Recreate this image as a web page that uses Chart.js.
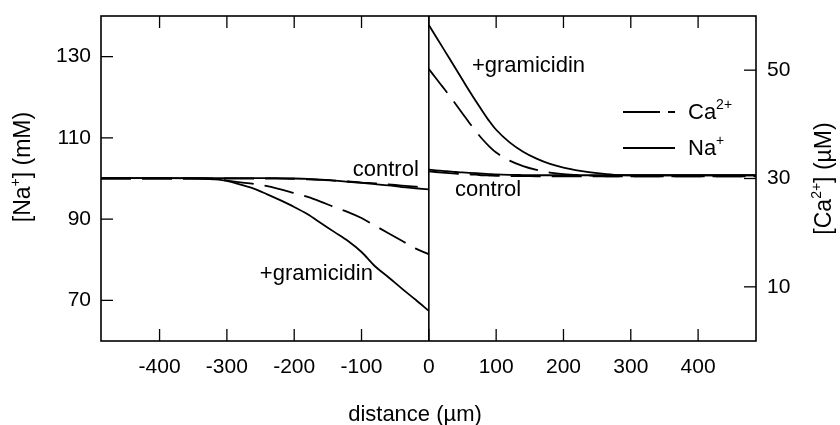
<!DOCTYPE html>
<html lang="en">
<head>
<meta charset="utf-8">
<title>[Na+] and [Ca2+] profiles</title>
<script src="https://cdn.jsdelivr.net/npm/chart.js@4"></script>
<style>
  body { margin: 0; background: #fff; }
</style>
</head>
<body>
<canvas id="profileChart" width="840" height="425"></canvas>
<script>
// distance from the cell (µm); the two halves are separate traces
const xLeft = [-487, -400, -340, -320, -300, -280, -260, -240, -220, -200, -180, -160, -140, -120, -100, -80, -60, -40, -20, 0];
const naGramLeft = [100.1, 100.1, 100.0, 99.8, 99.4, 98.5, 97.5, 96.1, 94.6, 93.0, 91.2, 89.0, 86.8, 84.6, 81.9, 78.4, 75.7, 72.9, 70.2, 67.4];
const caGramLeft = [30.0, 30.0, 30.0, 29.9, 29.6, 29.3, 29.0, 28.6, 28.0, 27.3, 26.6, 25.7, 24.7, 23.8, 22.7, 21.3, 19.9, 18.5, 17.1, 16.0];
const naCtrlLeft = [100.1, 100.1, 100.1, 100.1, 100.1, 100.1, 100.1, 100.1, 100.05, 100.0, 99.9, 99.7, 99.5, 99.2, 98.9, 98.6, 98.3, 97.9, 97.6, 97.3];
const caCtrlLeft = [30.0, 30.0, 30.0, 30.0, 30.0, 30.0, 30.0, 30.0, 30.0, 29.95, 29.85, 29.75, 29.6, 29.45, 29.25, 29.1, 28.9, 28.7, 28.5, 28.3];

const xRight = [0, 10, 20, 30, 40, 50, 60, 70, 80, 90, 100, 120, 140, 160, 180, 200, 225, 250, 275, 300, 350, 400, 486];
const naGramRight = [137.8, 135.1, 132.4, 129.7, 127.0, 124.3, 121.6, 119.0, 116.5, 114.1, 112.0, 108.9, 106.6, 104.9, 103.6, 102.7, 101.9, 101.3, 100.9, 100.8, 100.8, 100.8, 100.8];
const caGramRight = [50.2, 48.6, 47.0, 45.4, 43.7, 42.0, 40.3, 38.7, 37.2, 35.9, 34.8, 33.3, 32.3, 31.6, 31.1, 30.8, 30.6, 30.5, 30.4, 30.4, 30.4, 30.4, 30.4];
const naCtrlRight = [102.2, 102.0, 101.9, 101.75, 101.6, 101.5, 101.4, 101.3, 101.2, 101.1, 101.0, 100.9, 100.85, 100.8, 100.8, 100.8, 100.8, 100.8, 100.8, 100.8, 100.8, 100.8, 100.8];
const caCtrlRight = [31.3, 31.2, 31.1, 31.0, 30.9, 30.8, 30.75, 30.7, 30.6, 30.55, 30.5, 30.45, 30.45, 30.4, 30.4, 30.4, 30.4, 30.4, 30.4, 30.4, 30.4, 30.4, 30.4];

const xTicks = [-400, -300, -200, -100, 0, 100, 200, 300, 400];
const naTicks = [70, 90, 110, 130];
const caTicks = [10, 30, 50];

const FONT = "'Liberation Sans', Arial, Helvetica, sans-serif";
const CA_DASH = [30, 11];

function pts(xs, ys) {
    return xs.map((x, i) => ({ x: x, y: ys[i] }));
}

function trace(xs, ys, axis, dashed) {
    return {
        data: pts(xs, ys),
        yAxisID: axis,
        borderColor: '#000',
        borderWidth: 1.8,
        borderDash: dashed ? CA_DASH : [],
        pointRadius: 0,
        cubicInterpolationMode: 'monotone',
        fill: false
    };
}

// text made of plain and superscript pieces, e.g. [['[Na'], ['+', true], ['] (mM)']]
function drawRich(ctx, parts, x, y, size, align) {
    const supSize = Math.round(size * 0.62);
    let w = 0;
    parts.forEach(p => {
        ctx.font = (p[1] ? supSize : size) + 'px ' + FONT;
        w += ctx.measureText(p[0]).width;
    });
    let cx = align === 'center' ? x - w / 2 : x;
    ctx.textAlign = 'left';
    ctx.textBaseline = 'alphabetic';
    parts.forEach(p => {
        ctx.font = (p[1] ? supSize : size) + 'px ' + FONT;
        ctx.fillText(p[0], cx, p[1] ? y - size * 0.45 : y);
        cx += ctx.measureText(p[0]).width;
    });
}

function seg(ctx, x1, y1, x2, y2) {
    ctx.beginPath();
    ctx.moveTo(x1, y1);
    ctx.lineTo(x2, y2);
    ctx.stroke();
}

const overlay = {
    id: 'overlay',
    afterDatasetsDraw(chart) {
        const ctx = chart.ctx;
        const a = chart.chartArea;
        const sx = chart.scales.x, yl = chart.scales.y, yr = chart.scales.y1;
        ctx.save();
        ctx.strokeStyle = '#000';
        ctx.lineWidth = 1.6;
        ctx.strokeRect(a.left, a.top, a.right - a.left, a.bottom - a.top);
        // divider at the cell surface
        const x0 = sx.getPixelForValue(0);
        seg(ctx, x0, a.top, x0, a.bottom);
        // tick marks point into the plot
        ctx.lineWidth = 1.3;
        xTicks.forEach(v => {
            const px = sx.getPixelForValue(v);
            seg(ctx, px, a.bottom, px, a.bottom - 12);
            seg(ctx, px, a.top, px, a.top + 12);
        });
        naTicks.forEach(v => {
            const py = yl.getPixelForValue(v);
            seg(ctx, a.left, py, a.left + 12, py);
        });
        caTicks.forEach(v => {
            const py = yr.getPixelForValue(v);
            seg(ctx, a.right, py, a.right - 12, py);
        });
        ctx.restore();
    },
    afterDraw(chart) {
        const ctx = chart.ctx;
        const a = chart.chartArea;
        const sx = chart.scales.x, yl = chart.scales.y;
        ctx.save();
        ctx.fillStyle = '#000';
        ctx.strokeStyle = '#000';

        // curve labels
        const lab = (t, xv, nv) => drawRich(ctx, [[t]], sx.getPixelForValue(xv), yl.getPixelForValue(nv), 22, 'left');
        lab('control', -113, 100.5);
        lab('control', 39, 95.6);
        lab('+gramicidin', -251, 75.1);
        lab('+gramicidin', 64, 126.2);

        // legend
        ctx.lineWidth = 1.8;
        ctx.setLineDash([37, 8]);
        seg(ctx, 623, 112, 675, 112);
        ctx.setLineDash([]);
        seg(ctx, 623, 148, 675, 148);
        drawRich(ctx, [['Ca'], ['2+', true]], 688, 119, 22, 'left');
        drawRich(ctx, [['Na'], ['+', true]], 688, 155, 22, 'left');

        // axis titles
        drawRich(ctx, [['distance (µm)']], 415, 421, 22, 'center');
        ctx.save();
        ctx.translate(30, 167);
        ctx.rotate(-Math.PI / 2);
        drawRich(ctx, [['[Na'], ['+', true], ['] (mM)']], 0, 0, 23, 'center');
        ctx.restore();
        ctx.save();
        ctx.translate(831, (a.top + a.bottom) / 2);
        ctx.rotate(-Math.PI / 2);
        drawRich(ctx, [['[Ca'], ['2+', true], ['] (µM)']], 0, 0, 23, 'center');
        ctx.restore();
        ctx.restore();
    }
};

const tickFont = { family: FONT, size: 21 };

// fixed axis boxes, and no extra room for half labels, so the frame sits where the original one does
function fixY(w) {
    return s => { s.width = w; s.paddingTop = 0; s.paddingBottom = 0; };
}

new Chart(document.getElementById('profileChart'), {
    type: 'line',
    data: {
        datasets: [
            trace(xLeft, naCtrlLeft, 'y', false),
            trace(xLeft, caCtrlLeft, 'y1', true),
            trace(xLeft, naGramLeft, 'y', false),
            trace(xLeft, caGramLeft, 'y1', true),
            trace(xRight, naCtrlRight, 'y', false),
            trace(xRight, caCtrlRight, 'y1', true),
            trace(xRight, naGramRight, 'y', false),
            trace(xRight, caGramRight, 'y1', true)
        ]
    },
    options: {
        responsive: false,
        animation: false,
        layout: { padding: { top: 16, left: 0, right: 0, bottom: 0 } },
        plugins: {
            legend: { display: false },
            tooltip: { enabled: false }
        },
        scales: {
            x: {
                type: 'linear',
                min: -487,
                max: 486,
                grid: { display: false, drawTicks: false },
                border: { display: false },
                ticks: { color: '#000', font: tickFont, padding: 14, maxRotation: 0 },
                afterBuildTicks: s => { s.ticks = xTicks.map(v => ({ value: v })); },
                afterFit: s => { s.height = 84; s.paddingLeft = 0; s.paddingRight = 0; }
            },
            y: {
                position: 'left',
                min: 60,
                max: 140,
                grid: { display: false, drawTicks: false },
                border: { display: false },
                ticks: { color: '#000', font: tickFont, padding: 10 },
                afterBuildTicks: s => { s.ticks = naTicks.map(v => ({ value: v })); },
                afterFit: fixY(101)
            },
            y1: {
                position: 'right',
                min: 0,
                max: 60,
                grid: { display: false, drawTicks: false },
                border: { display: false },
                ticks: { color: '#000', font: tickFont, padding: 11 },
                afterBuildTicks: s => { s.ticks = caTicks.map(v => ({ value: v })); },
                afterFit: fixY(84)
            }
        }
    },
    plugins: [overlay]
});
</script>
</body>
</html>
